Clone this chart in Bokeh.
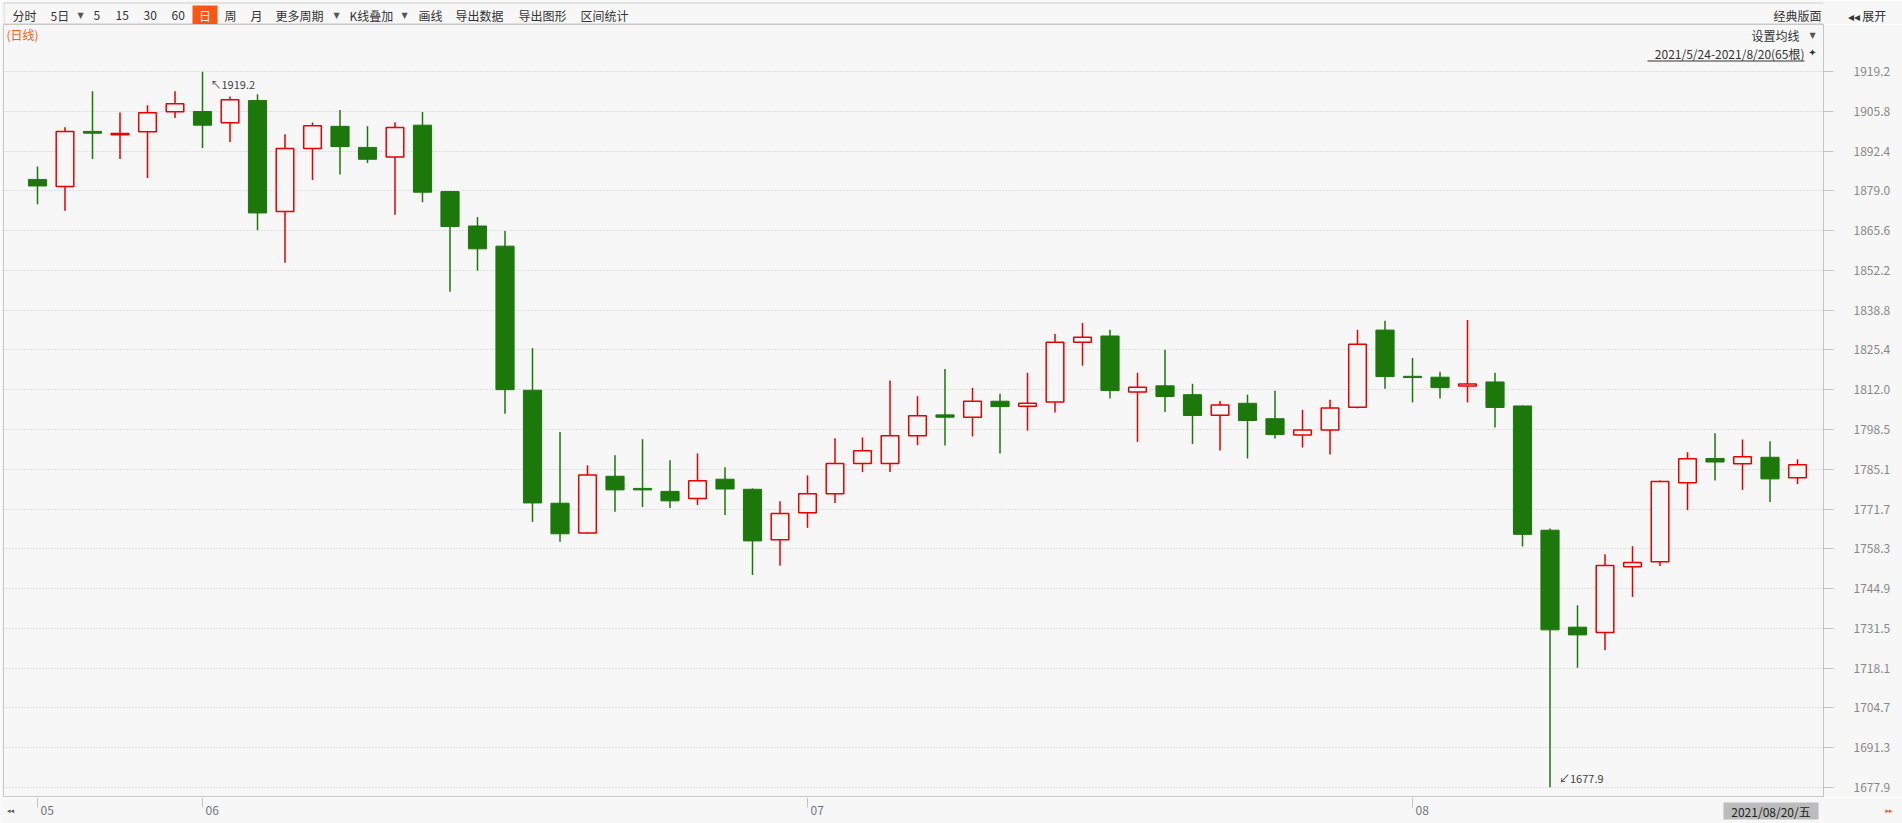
import pandas as pd
from bokeh.plotting import figure
from bokeh.layouts import column
from bokeh.models import (Range1d, FixedTicker, Label, ColumnDataSource,
                          PrintfTickFormatter, BoxAnnotation)
from bokeh.core.properties import value
from bokeh.embed import file_html
from bokeh.resources import INLINE

# ---------------- data ----------------
dates = [d.strftime("%Y-%m-%d") for d in pd.bdate_range("2021-05-24", "2021-08-20")]

opens = [1882.9, 1880.5, 1899.1, 1898.0, 1899.0, 1905.7, 1905.8, 1902.0, 1909.5, 1872.1,
         1893.3, 1900.8, 1893.7, 1890.5, 1901.2, 1878.8, 1867.2, 1860.4, 1811.8, 1773.7,
         1763.7, 1782.8, 1778.7, 1777.7, 1775.3, 1781.8, 1778.4, 1761.4, 1770.5, 1776.9,
         1787.1, 1787.1, 1796.5, 1803.5, 1802.7, 1808.1, 1806.4, 1807.8, 1828.0, 1830.1,
         1811.2, 1813.3, 1810.3, 1803.4, 1807.4, 1802.2, 1796.7, 1798.4, 1806.1, 1832.1,
         1816.5, 1816.2, 1813.2, 1814.6, 1806.5, 1764.6, 1731.9, 1730.1, 1752.3, 1754.0,
         1780.6, 1788.8, 1787.0, 1789.2, 1782.3]
highs = [1887.3, 1900.5, 1912.6, 1905.5, 1907.9, 1912.6, 1919.2, 1910.9, 1911.6, 1898.1,
         1902.1, 1906.3, 1900.8, 1902.2, 1905.6, 1879.0, 1870.2, 1865.5, 1826.0, 1797.7,
         1786.5, 1789.9, 1795.3, 1788.2, 1790.5, 1785.8, 1778.7, 1774.4, 1783.1, 1795.6,
         1795.9, 1815.1, 1809.8, 1819.0, 1812.6, 1810.6, 1817.7, 1830.8, 1834.5, 1832.2,
         1817.7, 1825.5, 1814.0, 1808.2, 1810.3, 1811.6, 1805.2, 1808.6, 1832.2, 1835.2,
         1822.7, 1818.0, 1835.5, 1817.7, 1806.7, 1765.2, 1739.3, 1756.5, 1759.2, 1781.4,
         1790.9, 1797.3, 1795.2, 1794.6, 1788.5]
lows = [1874.5, 1872.3, 1889.8, 1889.8, 1883.4, 1903.6, 1893.5, 1895.5, 1865.8, 1854.8,
        1882.7, 1884.6, 1888.4, 1871.0, 1875.2, 1845.0, 1852.1, 1803.9, 1767.4, 1760.7,
        1763.5, 1770.8, 1772.4, 1772.1, 1773.1, 1769.7, 1749.5, 1752.6, 1765.4, 1773.8,
        1784.2, 1784.2, 1793.3, 1793.2, 1796.2, 1790.5, 1798.2, 1804.3, 1820.1, 1809.0,
        1794.4, 1804.5, 1793.7, 1791.5, 1788.8, 1795.5, 1792.5, 1790.1, 1805.7, 1812.3,
        1807.7, 1809.0, 1807.7, 1799.2, 1759.1, 1677.9, 1718.2, 1724.2, 1742.1, 1752.5,
        1771.4, 1781.4, 1778.2, 1774.1, 1780.2]
closes = [1880.7, 1899.1, 1898.5, 1898.4, 1905.4, 1908.4, 1901.2, 1909.8, 1871.6, 1893.3,
          1901.0, 1894.0, 1889.7, 1900.4, 1878.6, 1867.0, 1859.5, 1812.0, 1773.8, 1763.4,
          1783.2, 1778.2, 1778.2, 1774.5, 1781.3, 1778.5, 1761.0, 1770.2, 1776.9, 1787.1,
          1791.4, 1796.5, 1803.2, 1802.7, 1808.1, 1806.3, 1807.4, 1828.0, 1829.7, 1811.7,
          1812.8, 1809.7, 1803.3, 1806.8, 1801.6, 1796.9, 1798.4, 1805.8, 1827.3, 1816.4,
          1816.1, 1812.7, 1813.9, 1806.0, 1763.2, 1731.0, 1729.3, 1752.7, 1753.7, 1781.0,
          1788.7, 1787.6, 1789.4, 1781.9, 1786.7]

y_tick_labels = ["1677.9", "1691.3", "1704.7", "1718.1", "1731.5", "1744.9", "1758.3",
                 "1771.7", "1785.1", "1798.5", "1812.0", "1825.4", "1838.8", "1852.2",
                 "1865.6", "1879.0", "1892.4", "1905.8", "1919.2"]

toolbar_items = ["分时", "5日", "5", "15", "30", "60", "周", "月", "更多周期",
                 "K线叠加", "画线", "导出数据", "导出图形", "区间统计"]
toolbar_active = "日"
toolbar_right = ["经典版面", "◂◂ 展开"]
range_text = "2021/5/24-2021/8/20(65根)"
cursor_date = "2021/08/20/五"

# ---------------- styles ----------------
BG = "#f7f7f7"
RED = "#e60000"
GREEN = "#1c780b"
GRID = "#c8c8c8"
AXIS = "#c4c4c4"
TXT = "#333333"
TICK_TXT = "#888888"
FONT = "Noto Sans CJK SC"

W = 1902
X0, X1 = -1.2364, 64.945  # bar-index range of the chart frame (page x 3 .. 1823)
FRAME_L, FRAME_R = 3, 1823
BL, BR = FRAME_L, W - FRAME_R   # borders shared by all stacked figures

def strip(height, x_range):
    f = figure(width=W, height=height, title=None, x_range=x_range,
               y_range=Range1d(height, 0), x_axis_type=None, y_axis_location="right",
               output_backend="svg", toolbar_location=None,
               min_border_left=BL, min_border_right=BR, min_border_top=0, min_border_bottom=0,
               background_fill_color=BG, border_fill_color=BG, outline_line_color=None)
    f.grid.visible = False
    ax = f.yaxis[0]
    ax.axis_line_color = None
    ax.major_tick_line_color = None
    ax.minor_tick_line_color = None
    ax.major_tick_out = 0
    ax.major_tick_in = 0
    return f

# ================= toolbar strip (top 24 px), x in page pixels =================
tb = strip(24, Range1d(FRAME_L, FRAME_R))
toolbar_x = [12, 50, 93, 115, 143, 171, 224, 250, 275, 349, 418, 455, 518, 580]
tb.segment(x0=[FRAME_L, 3.5], y0=[2.5, 2.5], x1=[FRAME_R, 3.5], y1=[2.5, 24],
           line_color="#d0d0d0", line_width=1)
tb.segment(x0=[FRAME_L], y0=[23.5], x1=[FRAME_R], y1=[23.5], line_color="#c8c8c8", line_width=1)
tb.text(x=toolbar_x, y=[14.5] * len(toolbar_x), text=toolbar_items,
        text_font=value(FONT), text_font_size="12px", text_color=TXT,
        text_align="left", text_baseline="middle")
tb.text(x=[80, 336, 404], y=[14.5] * 3, text=["▼", "▼", "▼"],
        text_font=value("DejaVu Sans"), text_font_size="8px", text_color="#555555",
        text_align="center", text_baseline="middle")
tb.quad(left=[192], right=[217], top=[5], bottom=[24], fill_color="#ff5514", line_color=None)
tb.text(x=[204.5], y=[14.5], text=[toolbar_active], text_font=value(FONT),
        text_font_size="12px", text_color="white", text_align="center", text_baseline="middle")
tb.text(x=[1821], y=[14.5], text=[toolbar_right[0]], text_font=value(FONT),
        text_font_size="12px", text_color=TXT, text_align="right", text_baseline="middle")
# the part right of the chart frame is written by the strip's (invisible) right axis
tb.yaxis.ticker = FixedTicker(ticks=[14.5], minor_ticks=[])
tb.yaxis.major_label_overrides = {14.5: toolbar_right[1]}
tb.yaxis.major_label_standoff = 24
tb.yaxis.major_label_text_font = FONT
tb.yaxis.major_label_text_font_size = "12px"
tb.yaxis.major_label_text_color = TXT

# ================= main chart (page y 24 .. 797) =================
n = len(dates)
idx = list(range(n))
up = [c >= o for o, c in zip(opens, closes)]

def pick(flag):
    sel = [i for i in idx if up[i] == flag]
    return ColumnDataSource(dict(
        x=sel,
        high=[highs[i] for i in sel],
        low=[lows[i] for i in sel],
        top=[max(opens[i], closes[i]) for i in sel],
        bottom=[min(opens[i], closes[i]) for i in sel],
    ))

src_up = pick(True)
src_dn = pick(False)

p = figure(width=W, height=773, title=None,
           x_range=Range1d(X0, X1), y_range=Range1d(1674.46, 1935.15),
           x_axis_type=None, y_axis_location="right",
           output_backend="svg", toolbar_location=None,
           min_border_left=BL, min_border_right=BR, min_border_top=0, min_border_bottom=0,
           background_fill_color=BG, border_fill_color=BG,
           outline_line_color="#c8c8c8")

p.xgrid.visible = False
p.ygrid.grid_line_color = GRID
p.ygrid.grid_line_dash = "1 2"
p.ygrid.grid_line_width = 1

# right price axis
y_ticks = [float(s) for s in y_tick_labels]
p.yaxis.ticker = FixedTicker(ticks=y_ticks, minor_ticks=[])
p.yaxis.formatter = PrintfTickFormatter(format="%.1f")
p.yaxis.axis_line_color = AXIS
p.yaxis.major_tick_line_color = AXIS
p.yaxis.major_tick_out = 10
p.yaxis.major_tick_in = 0
p.yaxis.minor_tick_line_color = None
p.yaxis.major_label_standoff = 20
p.yaxis.major_label_text_font = FONT
p.yaxis.major_label_text_font_size = "12px"
p.yaxis.major_label_text_color = TICK_TXT

# candles
p.segment(x0="x", y0="high", x1="x", y1="low", source=src_up, line_color=RED, line_width=1.5)
p.segment(x0="x", y0="high", x1="x", y1="low", source=src_dn, line_color=GREEN, line_width=1.5)
p.vbar(x="x", top="top", bottom="bottom", width=0.64, source=src_up,
       fill_color=BG, line_color=RED, line_width=1.5)
p.vbar(x="x", top="top", bottom="bottom", width=0.66, source=src_dn,
       fill_color=GREEN, line_color=GREEN, line_width=1)

# max / min annotations
i_hi = max(idx, key=lambda i: highs[i])
i_lo = min(idx, key=lambda i: lows[i])
p.text(x=[i_hi], y=[highs[i_hi]], text=["↖" + f"{highs[i_hi]:.1f}"], x_offset=8, y_offset=4,
       text_baseline="top", text_align="left", text_font=value(FONT),
       text_font_size="11px", text_color="#444444")
p.text(x=[i_lo], y=[lows[i_lo]], text=["↙" + f"{lows[i_lo]:.1f}"], x_offset=9, y_offset=-1,
       text_baseline="bottom", text_align="left", text_font=value(FONT),
       text_font_size="11px", text_color="#444444")

# header texts inside the chart frame (screen units, relative to the frame)
FB = 797  # frame bottom in page pixels

def lab(text, px, py, size="12px", color=TXT, align="left", font=FONT, **kw):
    p.add_layout(Label(x=px - FRAME_L, y=FB - py, x_units="screen", y_units="screen",
                       text=text, text_font=font, text_font_size=size, text_color=color,
                       text_align=align, text_baseline="middle", **kw))

lab("(日线)", 6, 34, color="#ff5a1a")
lab("设置均线", 1799, 35, align="right")
lab("▼", 1812, 35, size="8px", color="#555555", align="center", font="DejaVu Sans")
lab(range_text, 1804, 53, align="right")
p.add_layout(BoxAnnotation(left=1647 - FRAME_L, right=1804 - FRAME_L, top=FB - 60, bottom=FB - 61,
                           left_units="screen", right_units="screen",
                           top_units="screen", bottom_units="screen",
                           fill_color="#333333", fill_alpha=1, line_color=None))
lab("✦", 1812, 52, size="10px", color="#333333", align="center", font="DejaVu Sans")

# ================= time axis strip (page y 797 .. 823), same bar scale as the chart =================
bx = strip(26, Range1d(X0, X1))
bx.extra_x_ranges = {"px": Range1d(FRAME_L, FRAME_R)}

month_idx = [i for i in idx if i == 0 or dates[i][5:7] != dates[i - 1][5:7]]
month_lbl = [dates[i][5:7] for i in month_idx]
bx.segment(x0=month_idx, y0=[0] * len(month_idx), x1=month_idx, y1=[10] * len(month_idx),
           line_color=AXIS, line_width=1)
bx.text(x=month_idx, y=[13] * len(month_idx), text=month_lbl, x_offset=3,
        text_font=value(FONT), text_font_size="12px", text_color="#6f7682",
        text_align="left", text_baseline="middle")

# cursor date of the last bar, at the right end of the frame
bx.quad(left=[1723], right=[1818], top=[5], bottom=[22], fill_color="#bcbcbc",
        line_color=None, x_range_name="px")
bx.text(x=[1770.5], y=[13.5], text=[cursor_date], x_range_name="px",
        text_font=value(FONT), text_font_size="12px", text_color="#222222",
        text_align="center", text_baseline="middle")
bx.text(x=[10], y=[13], text=["◂◂"], x_range_name="px",
        text_font=value("DejaVu Sans"), text_font_size="7px",
        text_color="#555555", text_align="center", text_baseline="middle")
bx.yaxis.ticker = FixedTicker(ticks=[13], minor_ticks=[])
bx.yaxis.major_label_overrides = {13: "▸▸"}
bx.yaxis.major_label_standoff = 62
bx.yaxis.major_label_text_font = "DejaVu Sans"
bx.yaxis.major_label_text_font_size = "7px"
bx.yaxis.major_label_text_color = "#ff5514"

layout = column(tb, p, bx, spacing=0)
open("out.html", "w").write(file_html(layout, INLINE))
